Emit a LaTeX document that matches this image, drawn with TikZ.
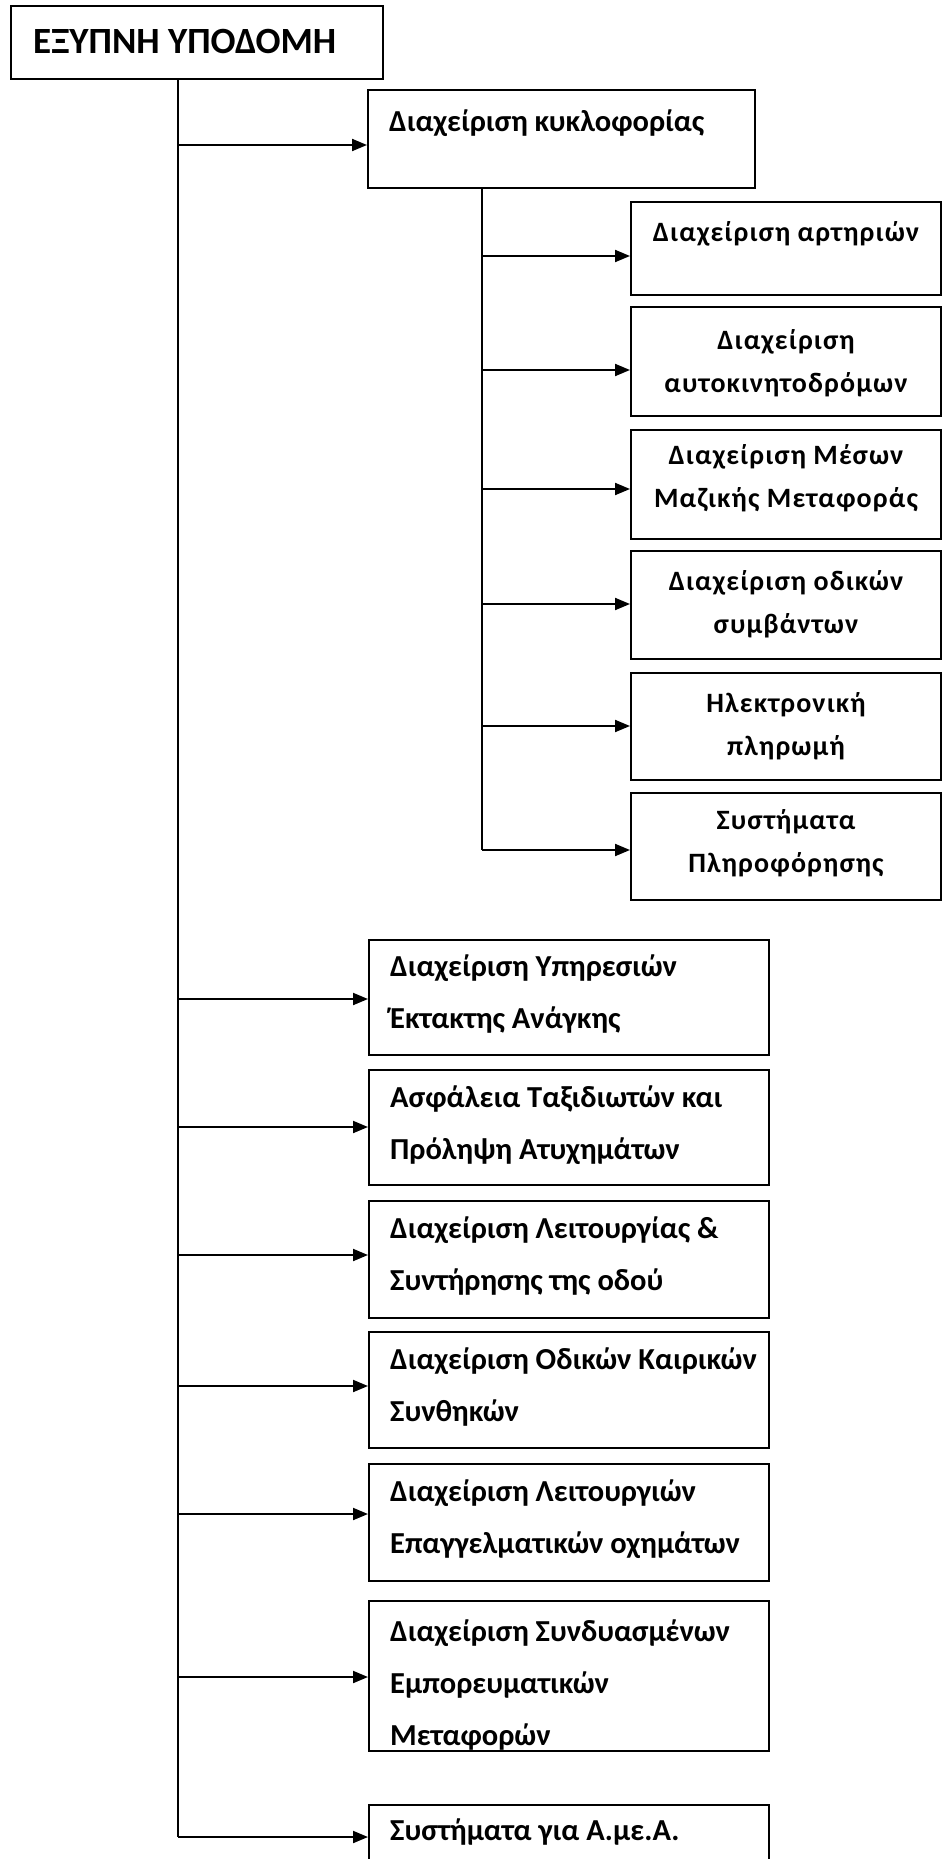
\documentclass[tikz,border=0pt]{standalone}
\usepackage{fontspec}
\setmainfont{Carlito}
\newfontfamily\subfont[LetterSpace=4]{Carlito}
\usetikzlibrary{arrows.meta,calc}
\begin{document}
\begin{tikzpicture}[x=1pt,y=-1pt,
  ln/.style={line width=2pt,black},
  arr/.style={line width=2pt,black,-{Triangle[length=15pt,width=12pt]}},
  box/.style={draw=black,line width=2pt,rectangle,inner sep=0pt,anchor=north west},
  lbl/.style={font=\fontsize{30.5}{52}\selectfont\bfseries,align=left,anchor=north west,inner sep=0pt},
  sublbl/.style={font=\fontsize{28}{43}\subfont\bfseries,align=center,anchor=north,inner sep=0pt},
]
\useasboundingbox (0,0) rectangle (942,1859);
\clip (0,0) rectangle (942,1859);
\fill[white] (0,0) rectangle (942,1859);
% top
\node[box,minimum width=372pt,minimum height=73pt] (top) at (9.5,5) {};
\node[font=\fontsize{37}{40}\selectfont\bfseries,anchor=west,inner sep=0pt] (topl) at (33,41) {ΕΞΥΠΝΗ ΥΠΟΔΟΜΗ};
% traffic
\node[box,minimum width=387pt,minimum height=98pt] (kyk) at (367,89) {};
\node[lbl] (kykl) at (389,110) {Διαχείριση κυκλοφορίας};
% sub boxes
\node[box,minimum width=310pt,minimum height=93pt] (s1) at (630,201) {};
\node[box,minimum width=310pt,minimum height=109pt] (s2) at (630,306) {};
\node[box,minimum width=310pt,minimum height=109pt] (s3) at (630,429) {};
\node[box,minimum width=310pt,minimum height=108pt] (s4) at (630,550) {};
\node[box,minimum width=310pt,minimum height=107pt] (s5) at (630,672) {};
\node[box,minimum width=310pt,minimum height=107pt] (s6) at (630,792) {};
\node[sublbl] (s1l) at (786,221) {Διαχείριση αρτηριών};
\node[sublbl] (s2l) at (786,329) {Διαχείριση\\αυτοκινητοδρόμων};
\node[sublbl] (s3l) at (786,444) {Διαχείριση Μέσων\\Μαζικής Μεταφοράς};
\node[sublbl] (s4l) at (786,570) {Διαχείριση οδικών\\συμβάντων};
\node[sublbl] (s5l) at (786,692) {Ηλεκτρονική\\πληρωμή};
\node[sublbl] (s6l) at (786,809) {Συστήματα\\Πληροφόρησης};
% lower boxes
\node[box,minimum width=400pt,minimum height=115pt] (b7) at (368,938.5) {};
\node[box,minimum width=400pt,minimum height=115pt] (b8) at (368,1069) {};
\node[box,minimum width=400pt,minimum height=117pt] (b9) at (368,1200) {};
\node[box,minimum width=400pt,minimum height=116pt] (b10) at (368,1331) {};
\node[box,minimum width=400pt,minimum height=117pt] (b11) at (368,1463) {};
\node[box,minimum width=400pt,minimum height=150pt] (b12) at (368,1600) {};
\node[box,minimum width=400pt,minimum height=70pt] (b13) at (368,1804) {};
\node[lbl] (b7l) at (390,955) {Διαχείριση Υπηρεσιών\\Έκτακτης Ανάγκης};
\node[lbl] (b8l) at (390,1086) {Ασφάλεια Ταξιδιωτών και\\Πρόληψη Ατυχημάτων};
\node[lbl] (b9l) at (390,1217) {Διαχείριση Λειτουργίας \&\\Συντήρησης της οδού};
\node[lbl] (b10l) at (390,1348) {Διαχείριση Οδικών Καιρικών\\Συνθηκών};
\node[lbl] (b11l) at (390,1480) {Διαχείριση Λειτουργιών\\Επαγγελματικών οχημάτων};
\node[lbl] (b12l) at (390,1620) {Διαχείριση Συνδυασμένων\\Εμπορευματικών\\Μεταφορών};
\node[lbl] (b13l) at (390,1819) {Συστήματα για Α.με.Α.};
% trunks
\coordinate (tr) at (178,1837);
\coordinate (str) at (482,850);
\draw[ln] (top.south -| tr) -- (tr);
\draw[ln] (kyk.south -| str) -- (str);
% arrows
\draw[arr] (tr |- 0,145) -- (kyk.west |- 0,145);
\foreach \b/\y in {s1/256,s2/370,s3/489,s4/604,s5/726,s6/850}{
  \draw[arr] (str |- 0,\y) -- (\b.west |- 0,\y);
}
\foreach \b/\y in {b7/999,b8/1127,b9/1255,b10/1386,b11/1514,b12/1677,b13/1837}{
  \draw[arr] (tr |- 0,\y) -- (\b.west |- 0,\y);
}
\end{tikzpicture}
\end{document}
